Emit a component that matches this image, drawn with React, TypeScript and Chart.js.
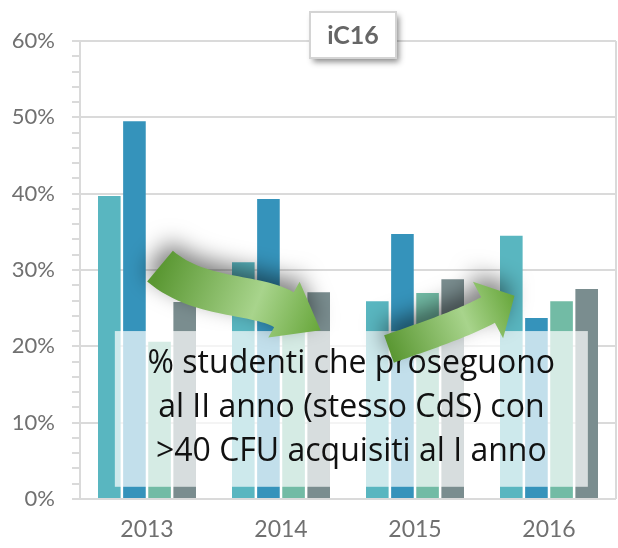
import React, { useEffect, useRef } from "react";
import { Chart, registerables } from "chart.js";

Chart.register(...registerables);

// ---- data ----
const YEARS = ["2013", "2014", "2015", "2016"];
const SERIES_1 = [39.7, 31.0, 25.9, 34.5];
const SERIES_2 = [49.5, 39.3, 34.7, 23.7];
const SERIES_3 = [20.6, 25.0, 27.0, 25.9];
const SERIES_4 = [25.8, 27.1, 28.8, 27.5];
const SERIES_NAMES = ["Serie 1", "Serie 2", "Serie 3", "Serie 4"];
const Y_MAX = 60;
const TITLE = "iC16";
const NOTE_LINES = [
  "% studenti che proseguono",
  "al II anno (stesso CdS) con",
  ">40 CFU acquisiti al I anno",
];

// ---- styles ----
const COLORS = ["#59b6c0", "#3593bb", "#72bba5", "#7a8d8f"];
const GRID = "#dadada";
const AXIS_TEXT = "#707070";

// annotation geometry in (category index, value) space
const NOTE_BOX = { i0: -0.24, i1: 3.29, v0: 1.6, v1: 22 };
const ARROW_1 = {
  pts: [
    [0.097, 30.5],
    [0.396, 26.1],
    [0.799, 27.0],
    [1.022, 24.8],
  ],
  body: 40,
  headW: 64,
  headL: 42,
};
const ARROW_2 = {
  pts: [
    [1.806, 19.65],
    [2.037, 21.1],
    [2.336, 22.8],
    [2.545, 24.76],
  ],
  body: 29,
  headW: 64,
  headL: 30,
};

function drawArrow(chart: any, a: any) {
  const { ctx, scales } = chart;
  const P = a.pts.map(([i, v]: number[]) => [
    scales.x.getPixelForValue(i),
    scales.y.getPixelForValue(v),
  ]);
  const bez = (t: number) => {
    const u = 1 - t;
    const b0 = u * u * u,
      b1 = 3 * u * u * t,
      b2 = 3 * u * t * t,
      b3 = t * t * t;
    return [
      b0 * P[0][0] + b1 * P[1][0] + b2 * P[2][0] + b3 * P[3][0],
      b0 * P[0][1] + b1 * P[1][1] + b2 * P[2][1] + b3 * P[3][1],
    ];
  };
  const der = (t: number) => {
    const u = 1 - t;
    const dx =
      3 * u * u * (P[1][0] - P[0][0]) +
      6 * u * t * (P[2][0] - P[1][0]) +
      3 * t * t * (P[3][0] - P[2][0]);
    const dy =
      3 * u * u * (P[1][1] - P[0][1]) +
      6 * u * t * (P[2][1] - P[1][1]) +
      3 * t * t * (P[3][1] - P[2][1]);
    const l = Math.hypot(dx, dy) || 1;
    return [dx / l, dy / l];
  };
  const N = 30;
  const left: number[][] = [];
  const right: number[][] = [];
  for (let k = 0; k <= N; k++) {
    const t = k / N;
    const [px, py] = bez(t);
    const [dx, dy] = der(t);
    const nx = -dy,
      ny = dx;
    left.push([px + (nx * a.body) / 2, py + (ny * a.body) / 2]);
    right.push([px - (nx * a.body) / 2, py - (ny * a.body) / 2]);
  }
  const [ex, ey] = P[3];
  const [dx, dy] = der(1);
  const nx = -dy,
    ny = dx;
  const tip = [ex + dx * a.headL, ey + dy * a.headL];
  ctx.save();
  ctx.beginPath();
  ctx.moveTo(left[0][0], left[0][1]);
  left.forEach((p) => ctx.lineTo(p[0], p[1]));
  ctx.lineTo(ex + (nx * a.headW) / 2, ey + (ny * a.headW) / 2);
  ctx.lineTo(tip[0], tip[1]);
  ctx.lineTo(ex - (nx * a.headW) / 2, ey - (ny * a.headW) / 2);
  for (let k = right.length - 1; k >= 0; k--) ctx.lineTo(right[k][0], right[k][1]);
  ctx.closePath();
  const g = ctx.createLinearGradient(P[0][0], P[0][1], tip[0], tip[1]);
  g.addColorStop(0, "#5a9732");
  g.addColorStop(0.6, "#a8d48c");
  g.addColorStop(1, "#67a63a");
  ctx.shadowColor = "rgba(0,0,0,0.5)";
  ctx.shadowBlur = 22;
  ctx.shadowOffsetX = -3;
  ctx.shadowOffsetY = -10;
  ctx.fillStyle = g;
  ctx.fill();
  ctx.restore();
}

const decorPlugin = {
  id: "decor",
  afterDatasetsDraw(chart: any) {
    const { ctx, chartArea, scales } = chart;
    const { x, y } = scales;
    ctx.save();
    // right frame line
    ctx.strokeStyle = GRID;
    ctx.lineWidth = 2;
    ctx.beginPath();
    ctx.moveTo(chartArea.right, chartArea.top);
    ctx.lineTo(chartArea.right, chartArea.bottom);
    ctx.stroke();

    // note box
    const bx0 = x.getPixelForValue(NOTE_BOX.i0);
    const bx1 = x.getPixelForValue(NOTE_BOX.i1);
    const by0 = y.getPixelForValue(NOTE_BOX.v1);
    const by1 = y.getPixelForValue(NOTE_BOX.v0);
    ctx.fillStyle = "rgba(255,255,255,0.7)";
    ctx.fillRect(bx0, by0, bx1 - bx0, by1 - by0);

    // note text
    ctx.fillStyle = "#111";
    ctx.font = '32px "Open Sans"';
    ctx.textAlign = "center";
    ctx.textBaseline = "middle";
    const cx = (bx0 + bx1) / 2;
    NOTE_LINES.forEach((line, k) => {
      ctx.fillText(line, cx, by0 + 33 + k * 44);
    });
    ctx.restore();

    drawArrow(chart, ARROW_1);
    drawArrow(chart, ARROW_2);

    // title box
    ctx.save();
    const tw = 86,
      th = 46;
    const tcx = (chartArea.left + chartArea.right) / 2 + 5;
    const tx = tcx - tw / 2;
    const ty = chartArea.top - 29;
    ctx.shadowColor = "rgba(0,0,0,0.45)";
    ctx.shadowBlur = 6;
    ctx.shadowOffsetX = 3;
    ctx.shadowOffsetY = 4;
    ctx.fillStyle = "#fff";
    ctx.fillRect(tx, ty, tw, th);
    ctx.shadowColor = "transparent";
    ctx.strokeStyle = "#d4d4d4";
    ctx.lineWidth = 2;
    ctx.strokeRect(tx, ty, tw, th);
    ctx.fillStyle = "#666";
    ctx.font = 'bold 25px "Lato"';
    ctx.textAlign = "center";
    ctx.textBaseline = "middle";
    ctx.fillText(TITLE, tcx, ty + th / 2 + 1);
    ctx.restore();
  },
};

export default function App() {
  const ref = useRef<HTMLCanvasElement | null>(null);
  useEffect(() => {
    if (!ref.current) return;
    const seriesData = [SERIES_1, SERIES_2, SERIES_3, SERIES_4];
    const chart = new Chart(ref.current, {
      type: "bar",
      data: {
        labels: YEARS,
        datasets: seriesData.map((d, k) => ({
          label: SERIES_NAMES[k],
          data: d,
          backgroundColor: COLORS[k],
          borderWidth: 0,
          categoryPercentage: 0.75,
          barPercentage: 0.9,
        })),
      },
      options: {
        responsive: false,
        animation: false,
        devicePixelRatio: 1,
        layout: { padding: { top: 41, right: 2, left: 0, bottom: 0 } },
        plugins: { legend: { display: false }, tooltip: { enabled: false } },
        scales: {
          x: {
            grid: { display: false, drawTicks: false },
            border: { display: false },
            ticks: {
              color: AXIS_TEXT,
              font: { family: "Lato", size: 23 },
              padding: 17,
            },
            afterFit: (s: any) => {
              s.height = 49;
            },
          },
          y: {
            min: 0,
            max: Y_MAX,
            ticks: {
              stepSize: 2,
              autoSkip: false,
              color: AXIS_TEXT,
              font: { family: "Lato", size: 22 },
              padding: 17,
              callback: (v: any) => (Number(v) % 10 === 0 ? `${v}%` : ""),
            },
            grid: {
              color: (c: any) =>
                c.tick && c.tick.value % 10 === 0 ? GRID : "rgba(0,0,0,0)",
              lineWidth: 2,
              tickLength: 8,
              tickColor: GRID,
              tickWidth: 2,
              drawTicks: true,
            },
            border: { display: true, color: GRID, width: 2 },
            afterFit: (s: any) => {
              s.width = 80;
            },
          },
        },
      },
      plugins: [decorPlugin],
    });
    return () => chart.destroy();
  }, []);
  return (
    <div style={{ position: "absolute", left: 0, top: 0 }}>
      <canvas ref={ref} width={618} height={548} />
    </div>
  );
}
